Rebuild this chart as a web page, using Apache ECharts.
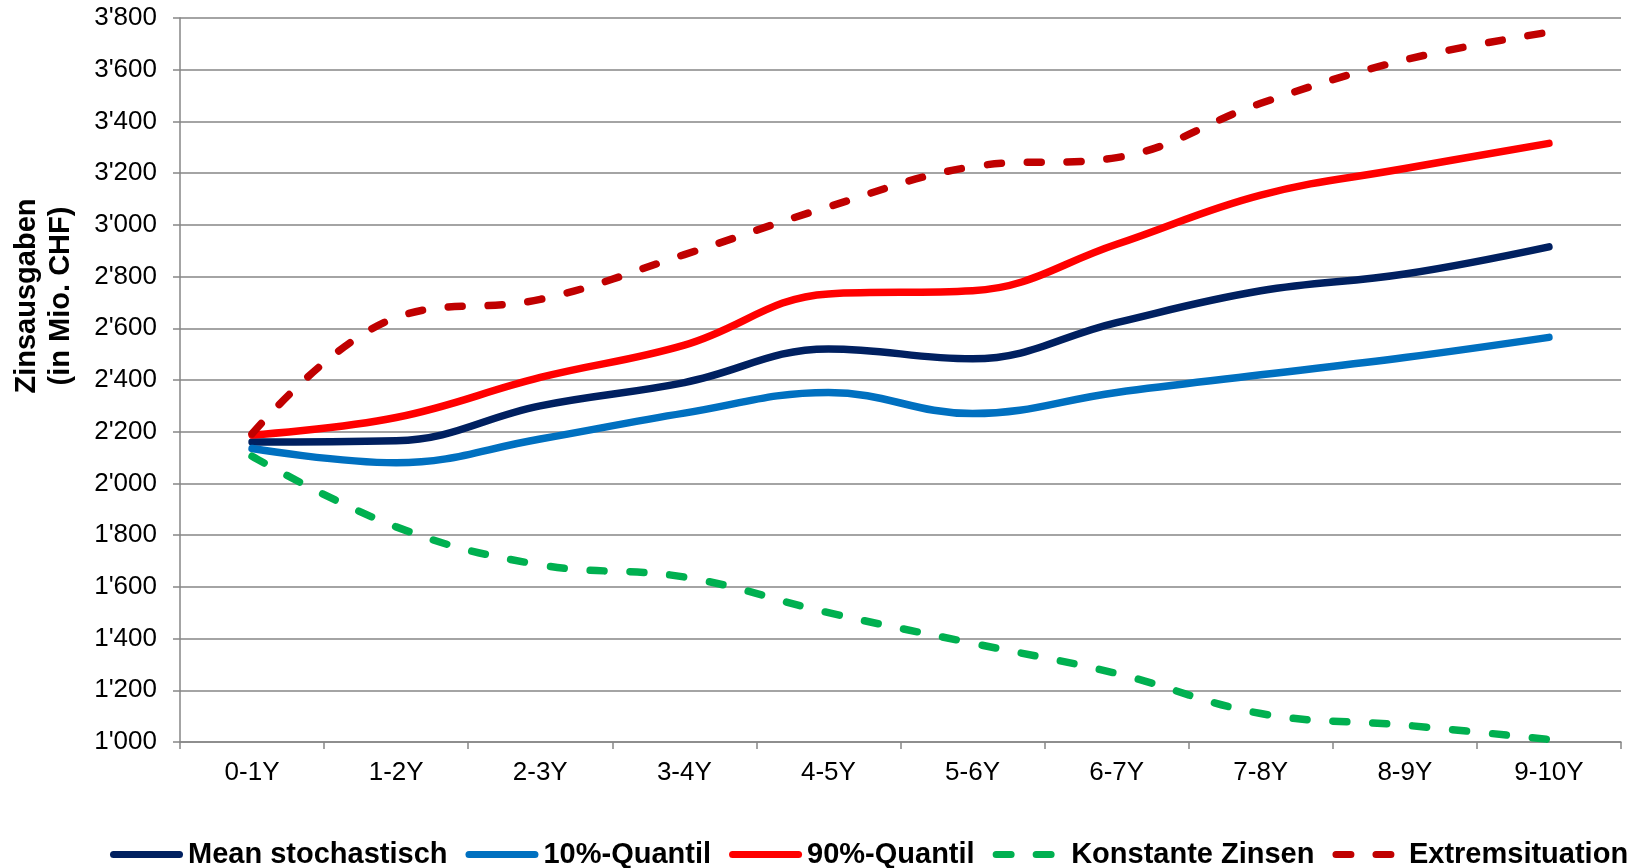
<!DOCTYPE html>
<html>
<head>
<meta charset="utf-8">
<script src="https://cdn.jsdelivr.net/npm/echarts@6/dist/echarts.min.js"></script>
<style>
  html, body { margin: 0; padding: 0; background: #fff; }
  #chart { width: 1651px; height: 868px; }
</style>
</head>
<body>
<div id="chart"></div>
<script>
// Zeitraum-Kategorien
const categories = ['0-1Y', '1-2Y', '2-3Y', '3-4Y', '4-5Y', '5-6Y', '6-7Y', '7-8Y', '8-9Y', '9-10Y'];

// Zinsausgaben in Mio. CHF je Szenario
const meanStochastisch = [2160, 2165, 2300, 2390, 2520, 2482, 2622, 2745, 2810, 2915];
const quantil10 = [2135, 2080, 2172, 2272, 2352, 2270, 2352, 2420, 2487, 2565];
const quantil90 = [2187, 2255, 2410, 2535, 2733, 2745, 2925, 3115, 3218, 3315];
const konstanteZinsen = [2105, 1832, 1685, 1638, 1500, 1382, 1265, 1110, 1065, 1010];
const extremsituation = [2192, 2642, 2712, 2885, 3070, 3225, 3260, 3470, 3638, 3745];

const seriesNames = ['Mean stochastisch', '10%-Quantil', '90%-Quantil', 'Konstante Zinsen', 'Extremsituation'];

const yMin = 1000, yMax = 3800, yStep = 200;

// Tausendertrennzeichen als Apostroph (Schweizer Schreibweise)
function swissNumber(v) {
  const s = String(Math.round(v));
  return s.length > 3 ? s.slice(0, -3) + "'" + s.slice(-3) : s;
}

const FONT = 'Liberation Sans, Arial, Helvetica, sans-serif';
const LINE_W = 7.5;
const DASH = [14, 26];

// Legendensymbole: durchgezogene Linie mit runden Enden bzw. zwei Striche
const ICON_SOLID = 'path://M3.5,0 H69.5 A3.5,3.5 0 0 1 69.5,7 H3.5 A3.5,3.5 0 0 1 3.5,0 Z';
const ICON_DASHED = 'path://M3.5,0 H18.5 A3.5,3.5 0 0 1 18.5,7 H3.5 A3.5,3.5 0 0 1 3.5,0 Z ' +
                    'M43.5,0 H58.5 A3.5,3.5 0 0 1 58.5,7 H43.5 A3.5,3.5 0 0 1 43.5,0 Z';

const chart = echarts.init(document.getElementById('chart'), null, { renderer: 'canvas' });

function lineSeries(name, data, color, dashed) {
  return {
    name: name,
    type: 'line',
    data: data,
    smooth: 0.4,
    symbol: 'none',
    showSymbol: false,
    lineStyle: {
      color: color,
      width: LINE_W,
      cap: 'round',
      join: 'round',
      type: dashed ? DASH : 'solid'
    },
    itemStyle: { color: color },
    emphasis: { disabled: true }
  };
}

chart.setOption({
  animation: false,
  backgroundColor: '#ffffff',
  grid: { left: 180, right: 30, top: 18, bottom: 126, containLabel: false },
  legend: {
    left: 110,
    top: 840,
    padding: 0,
    itemWidth: 73,
    itemHeight: 7,
    itemGap: 18,
    textStyle: { fontFamily: FONT, fontSize: 29, fontWeight: 'bold', color: '#000' },
    data: [
      { name: seriesNames[0], icon: ICON_SOLID },
      { name: seriesNames[1], icon: ICON_SOLID },
      { name: seriesNames[2], icon: ICON_SOLID },
      { name: seriesNames[3], icon: ICON_DASHED, textStyle: { padding: [0, 0, 0, 6] } },
      { name: seriesNames[4], icon: ICON_DASHED, textStyle: { padding: [0, 0, 0, 4] } }
    ]
  },
  graphic: [{
    type: 'text',
    x: 44,
    y: 296,
    rotation: Math.PI / 2,
    style: {
      text: 'Zinsausgaben\n(in Mio. CHF)',
      align: 'center',
      verticalAlign: 'middle',
      fontFamily: FONT,
      fontSize: 29,
      fontWeight: 'bold',
      lineHeight: 34,
      fill: '#000'
    }
  }],
  xAxis: {
    type: 'category',
    data: categories,
    boundaryGap: true,
    axisLine: { show: true, lineStyle: { color: '#868686', width: 1.5 } },
    axisTick: { show: true, length: 7, alignWithLabel: false, lineStyle: { color: '#868686', width: 1.5 } },
    axisLabel: { fontFamily: FONT, fontSize: 26, color: '#000', margin: 18 },
    splitLine: { show: false }
  },
  yAxis: {
    type: 'value',
    min: yMin,
    max: yMax,
    interval: yStep,
    axisLine: { show: true, lineStyle: { color: '#868686', width: 1.5 } },
    axisTick: { show: true, length: 7, lineStyle: { color: '#868686', width: 1.5 } },
    axisLabel: { fontFamily: FONT, fontSize: 26, color: '#000', margin: 23, formatter: swissNumber },
    splitLine: { show: true, lineStyle: { color: '#868686', width: 1.5 } }
  },
  series: [
    lineSeries(seriesNames[0], meanStochastisch, '#002060', false),
    lineSeries(seriesNames[1], quantil10, '#0070C0', false),
    lineSeries(seriesNames[2], quantil90, '#FF0000', false),
    lineSeries(seriesNames[3], konstanteZinsen, '#00B050', true),
    lineSeries(seriesNames[4], extremsituation, '#C00000', true)
  ]
});
</script>
</body>
</html>
